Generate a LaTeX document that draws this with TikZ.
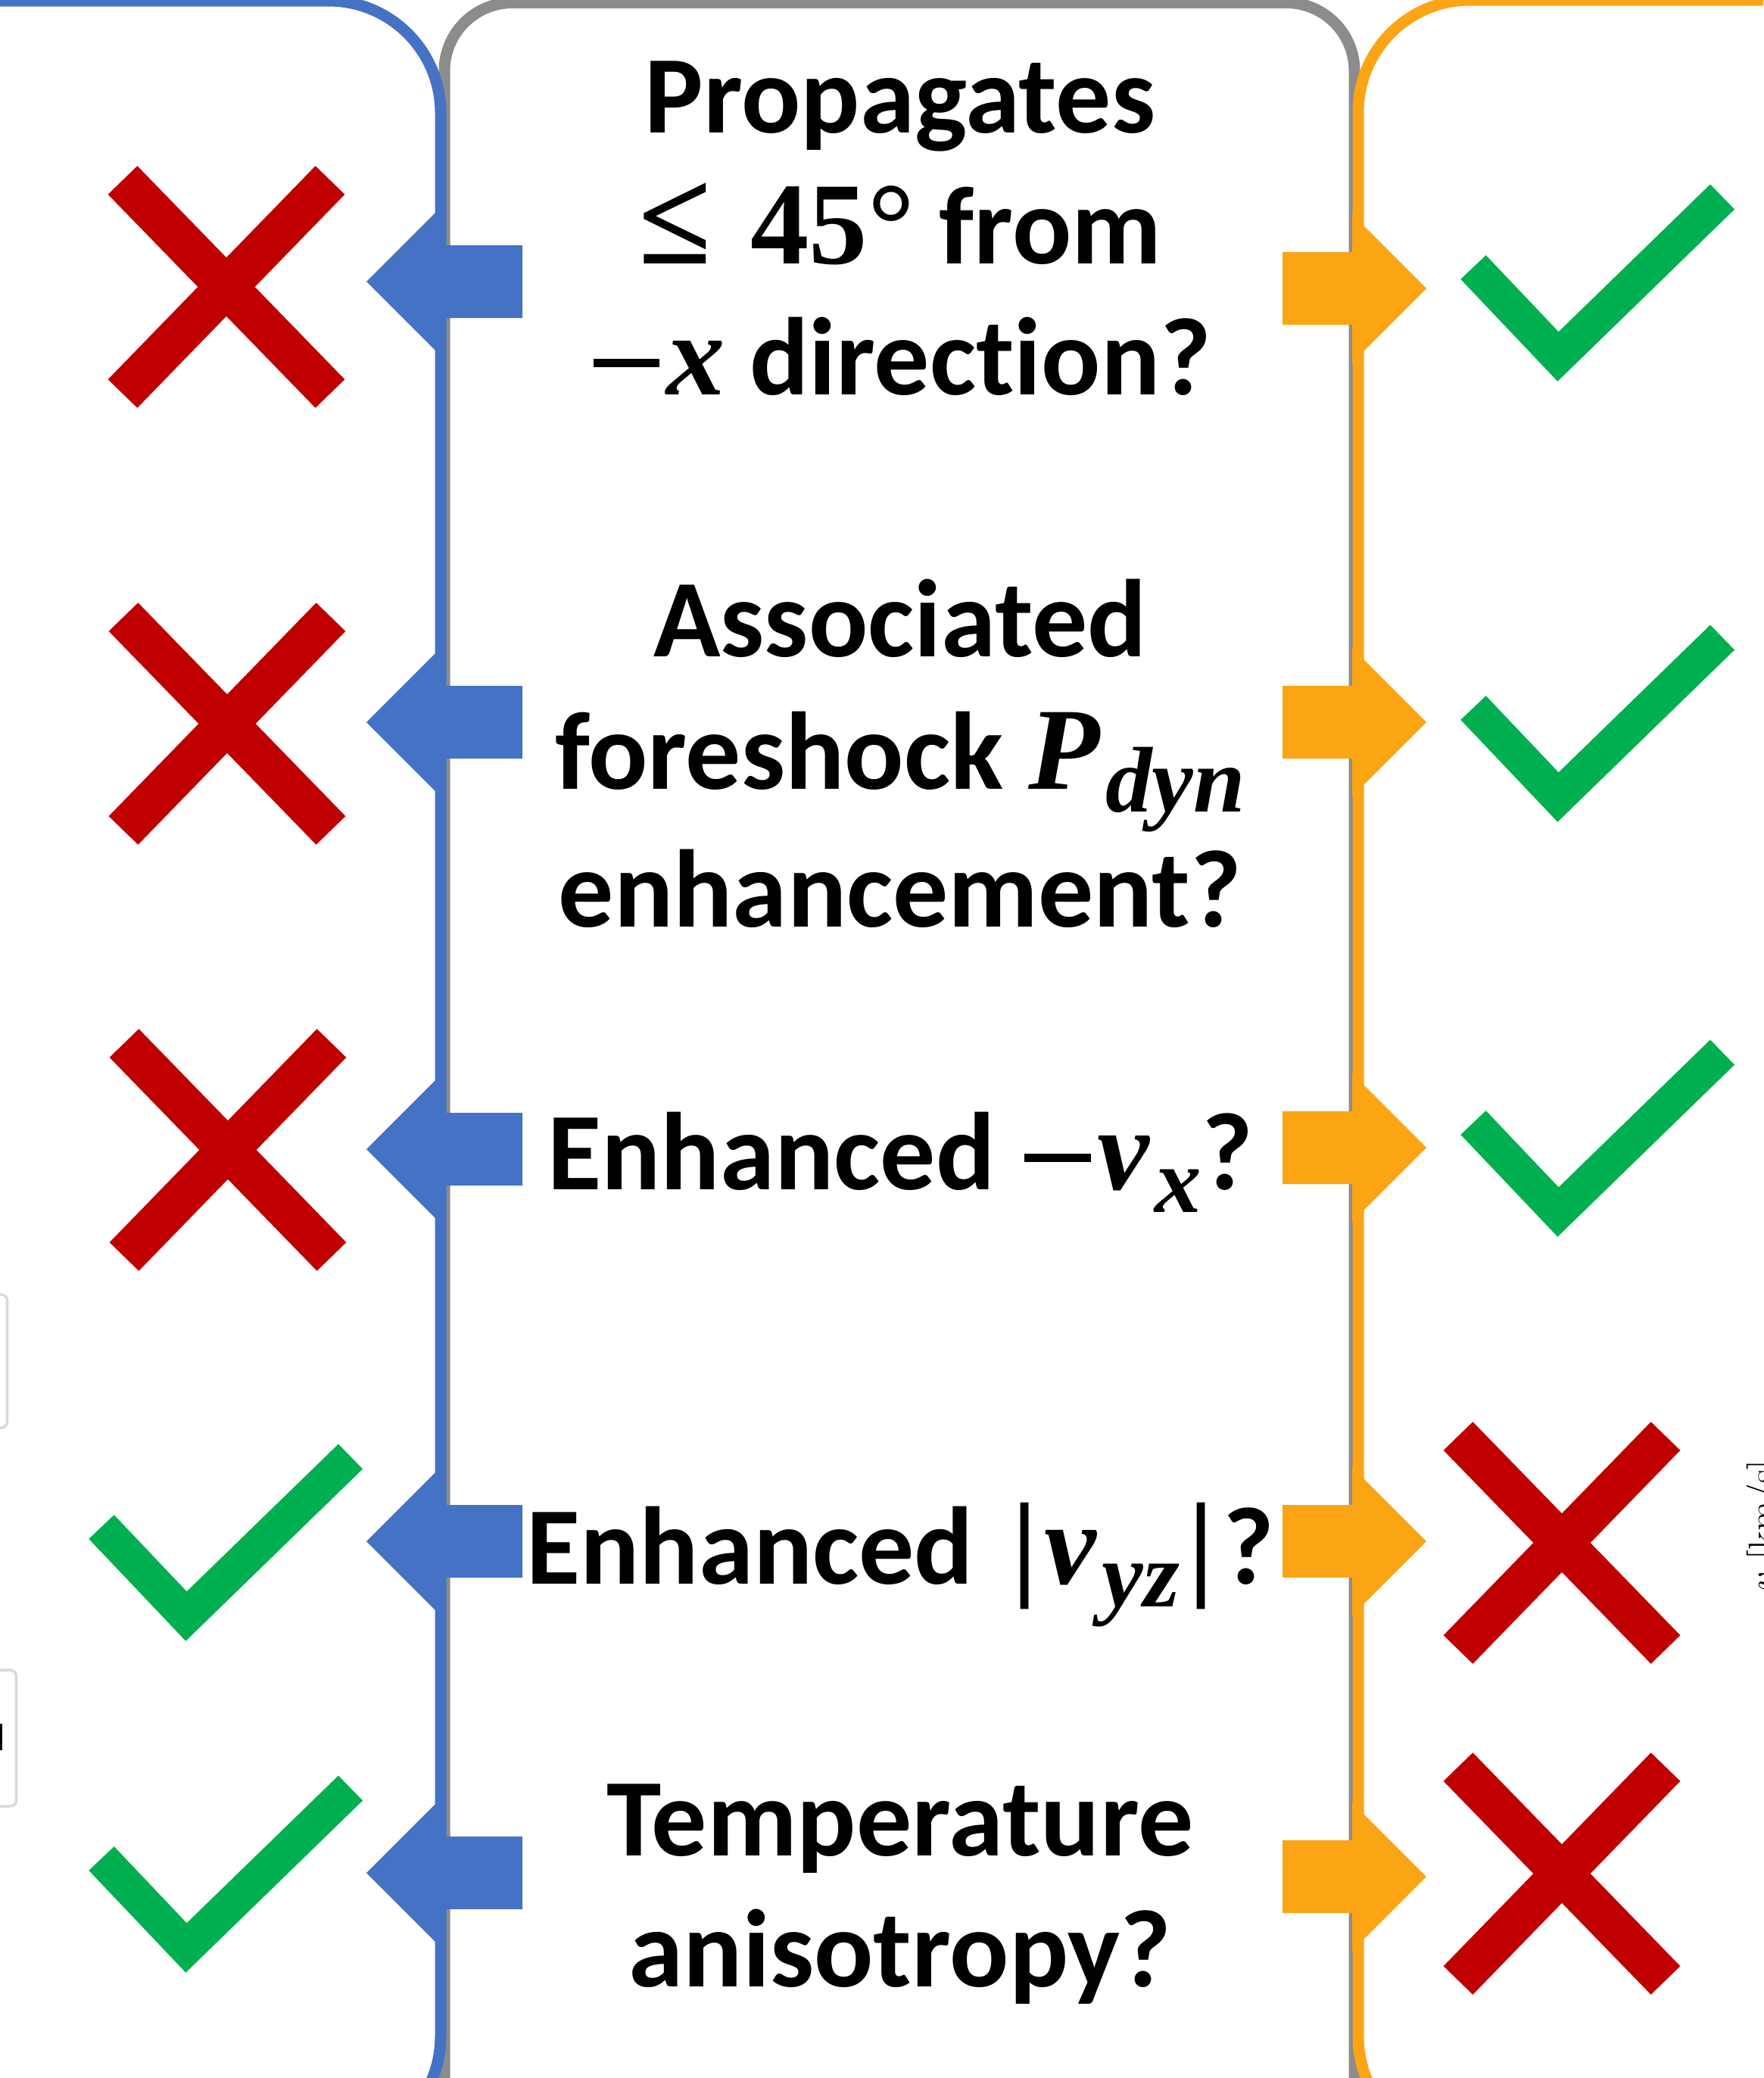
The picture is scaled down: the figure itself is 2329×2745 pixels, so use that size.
\documentclass[tikz,border=0pt]{standalone}
\usepackage{fontspec}
\setmainfont{Carlito}[Ligatures=NoCommon]
\newfontfamily\mathserif{Liberation Serif}
\newfontfamily\lmfont{Latin Modern Roman}

\definecolor{cblue}{HTML}{4472C4}
\definecolor{cgray}{HTML}{8C8C8C}
\definecolor{corange}{HTML}{FBA514}
\definecolor{cred}{HTML}{C00000}
\definecolor{cgreen}{HTML}{00B050}
\definecolor{cframe}{HTML}{D9D9D9}

% bold italic variables, bold symbols, minus sign and lowered subscripts
\newcommand\mvar[1]{{\fontsize{44}{50}\selectfont\mathserif\bfseries\itshape #1}}
\newcommand\msym[1]{{\fontsize{44}{50}\selectfont\mathserif\bfseries #1}}
\newcommand\mleq{{\fontsize{50}{50}\selectfont\mathserif\bfseries ≤}}
\newcommand\mminus{\hspace{0.04em}\rule[0.25em]{0.6em}{0.07em}\hspace{0.06em}}
\newcommand\msub[1]{\hspace{0.05em}\raisebox{-0.21em}{\fontsize{35}{35}\selectfont\mathserif\bfseries\itshape #1}}

\tikzset{
  boxblue/.style={draw=cblue, line width=0.15cm, rounded corners=1.48cm},
  boxgray/.style={draw=cgray, line width=0.15cm, rounded corners=0.9cm},
  boxorange/.style={draw=corange, line width=0.15cm, rounded corners=1.48cm},
  qtext/.style={font=\fontsize{41.5}{50}\selectfont\bfseries, anchor=base, inner sep=0pt},
  fragbox/.style={draw=cframe, line width=0.035cm, rounded corners=0.08cm},
  crossmark/.pic={\draw[cred, line width=0.54cm] (-137,-141) -- (137,141) (-137,141) -- (137,-141);},
  checkmark/.pic={\draw[cgreen, line width=0.46cm, miter limit=10] (-112,-118) -- (0,0) -- (217,-211);},
  leftblock/.pic={\fill[cblue] (206,-48) -- (100,-48) -- (100,-100) -- (0,0) -- (100,100) -- (100,48) -- (206,48) -- cycle;},
  rightblock/.pic={\fill[corange] (-190,-48) -- (-98,-48) -- (-98,-98) -- (0,0) -- (-98,98) -- (-98,48) -- (-190,48) -- cycle;},
}

\begin{document}
\begin{tikzpicture}[x=0.01cm, y=-0.01cm]
\useasboundingbox (0,0) rectangle (2329,2745);
\clip (0,0) rectangle (2329,2745);

% column frames
\draw[boxgray] (587,3.5) rectangle (1789,3000);
\draw[boxblue] (-100,1) -- (582,1) -- (582,2838) -- (-100,2838);
\draw[boxorange] (2500,0) -- (1794,0) -- (1794,2838) -- (2500,2838);

% block arrows on the column borders
\pic (la1) at (484,372) {leftblock};
\pic (la2) at (484,954) {leftblock};
\pic (la3) at (484,1518) {leftblock};
\pic (la4) at (484,2036) {leftblock};
\pic (la5) at (484,2474) {leftblock};
\pic (ra1) at (1884,381) {rightblock};
\pic (ra2) at (1884,954) {rightblock};
\pic (ra3) at (1884,1516) {rightblock};
\pic (ra4) at (1884,2036) {rightblock};
\pic (ra5) at (1884,2479) {rightblock};

% answers, left column
\pic (lx1) at (299,379) {crossmark};
\pic (lx2) at (300,956) {crossmark};
\pic (lx3) at (301,1519) {crossmark};
\pic (lc4) at (246,2135) {checkmark};
\pic (lc5) at (246,2573) {checkmark};

% answers, right column
\pic (rc1) at (2058,471) {checkmark};
\pic (rc2) at (2058,1053) {checkmark};
\pic (rc3) at (2058,1601) {checkmark};
\pic (rx4) at (2063,2038) {crossmark};
\pic (rx5) at (2063,2475) {crossmark};

% questions
\node[qtext] (q1a) at (1189,175) {Propagates};
\node[qtext] (q1b) at (1189,348) {\mleq\hspace{0.35em}\msym{45°} from};
\node[qtext] (q1c) at (1189,521) {\mminus\mvar{x} direction?};
\node[qtext] (q2a) at (1189,867) {Associated};
\node[qtext] (q2b) at (1189,1042) {foreshock \mvar{P}\msub{dyn}};
\node[qtext] (q2c) at (1189,1224) {enhancement?};
\node[qtext] (q3) at (1189,1571) {Enhanced \mminus\mvar{v}\msub{x}?};
\node[qtext] (q4) at (1189,2092) {Enhanced\hspace{0.12em} \msym{|}\hspace{0.06em}\mvar{v}\msub{yz}\hspace{0.08em}\msym{|}\hspace{0.08em}?};
\node[qtext] (q5a) at (1189,2451) {Temperature};
\node[qtext] (q5b) at (1189,2624) {anisotropy?};

% neighbouring panels at the edges
\draw[fragbox] (-100,1710) rectangle (9.5,1886);
\draw[fragbox] (-100,2206) rectangle (21.5,2386);
\fill[black] (0,2277) rectangle (3,2312);
\node[rotate=90, anchor=base east, inner sep=0pt, font=\lmfont\fontsize{14.5}{14.5}\selectfont] (unit) at (2345,1928) {$v$ [km/s]};
\end{tikzpicture}
\end{document}
